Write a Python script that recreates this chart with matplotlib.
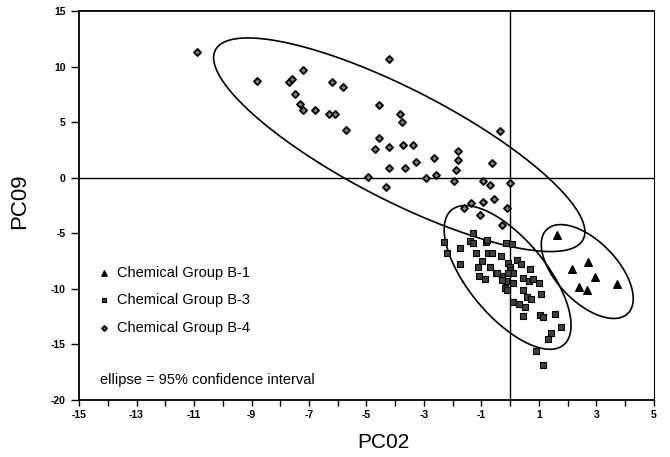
import numpy as np
import matplotlib
matplotlib.use('Agg')
import matplotlib.pyplot as plt
from matplotlib.ticker import MultipleLocator, FuncFormatter

plt.rcParams['font.family'] = ['Liberation Sans', 'DejaVu Sans']
plt.rcParams['axes.unicode_minus'] = False

# Chemical Group B-1 (triangles)
b1_x = [1.62, 2.72, 2.15, 2.96, 2.38, 2.67, 3.71]
b1_y = [-5.2, -7.6, -8.2, -8.9, -9.8, -10.1, -9.6]

# Chemical Group B-3 (squares)
b3_x = [-1.28, -2.32, -1.74, -1.39, -1.30, -0.85, -0.81, -0.14, 0.06, -2.20,
        -1.18, -0.76, -0.64, -0.31, -1.74, -0.99, -1.12, -0.70, -0.08, 0.00,
        0.25, 0.37, 0.70, 0.00, -0.50, -0.27, -1.10, -0.87, 0.09, -0.15,
        -0.17, -0.11, 0.09, 0.44, 0.66, 0.78, 0.99, 0.44, 0.58, 0.73,
        1.07, 0.09, 0.32, 0.52, 0.43, 1.04, 1.14, 1.57, 1.76, 1.42,
        1.30, 0.90, 1.14, -0.45, -0.30, -0.09]
b3_y = [-5.0, -5.8, -6.3, -5.7, -5.85, -5.8, -5.6, -5.9, -5.95, -6.8,
        -6.8, -6.75, -6.8, -7.05, -7.8, -7.5, -8.0, -8.0, -7.7, -8.0,
        -7.4, -7.8, -8.2, -8.3, -8.55, -8.85, -8.85, -9.1, -8.6, -9.3,
        -9.9, -10.1, -9.5, -9.05, -9.3, -9.15, -9.5, -10.1, -10.7, -10.95,
        -10.5, -11.2, -11.4, -11.6, -12.45, -12.4, -12.55, -12.3, -13.4, -13.95,
        -14.55, -15.6, -16.85, -8.6, -9.2, -8.6]

# Chemical Group B-4 (diamonds)
b4_x = [-10.9, -8.8, -7.7, -7.6, -7.2, -7.5, -7.3, -7.2, -6.8, -6.2,
        -5.8, -6.3, -6.1, -5.7, -4.2, -4.55, -3.85, -3.77, -4.56, -4.72,
        -4.21, -3.73, -3.37, -2.65, -1.83, -1.80, -0.65, -0.36, -4.21, -3.66,
        -4.95, -4.32, -3.28, -2.93, -2.58, -1.88, -1.95, -0.94, -0.72, -0.02,
        -0.57, -0.94, -1.36, -1.61, -0.11, -1.04, -0.29]
b4_y = [11.3, 8.7, 8.6, 8.9, 9.7, 7.5, 6.6, 6.1, 6.1, 8.6,
        8.2, 5.7, 5.7, 4.3, 10.7, 6.5, 5.7, 5.0, 3.6, 2.6,
        2.75, 2.96, 2.9, 1.8, 2.4, 1.6, 1.3, 4.2, 0.9, 0.9,
        0.1, -0.8, 1.4, 0.0, 0.2, 0.7, -0.3, -0.3, -0.7, -0.5,
        -1.9, -2.2, -2.3, -2.7, -2.7, -3.4, -4.3]

# 95% confidence ellipses: centre and covariance-like shape matrix
ell_center = [(-3.86, 2.96), (-0.09, -8.98), (2.68, -8.45)]
ell_shape = [[[41.71, -50.61], [-50.61, 92.41]],
             [[4.875, -9.52], [-9.52, 41.84]],
             [[2.560, -3.896], [-3.896, 17.85]]]

x_ticks = [-15, -13, -11, -9, -7, -5, -3, -1, 1, 3, 5]
y_ticks = [-20, -15, -10, -5, 0, 5, 10, 15]

fig = plt.figure(figsize=(6.7, 4.57), dpi=100)
ax = fig.add_axes([0.118, 0.125, 0.858, 0.851])

ax.axhline(0, color='black', lw=1.0, zorder=1)
ax.axvline(0, color='black', lw=1.0, zorder=1)

t = np.linspace(0, 2 * np.pi, 400)
for c, s in zip(ell_center, ell_shape):
    vals, vecs = np.linalg.eigh(np.array(s))
    pts = vecs @ (np.sqrt(vals)[:, None] * np.vstack([np.cos(t), np.sin(t)]))
    ax.plot(c[0] + pts[0], c[1] + pts[1], color='black', lw=1.2, zorder=2)

h1 = ax.scatter(b1_x, b1_y, marker='^', s=30, color='black', zorder=3)
h3 = ax.scatter(b3_x, b3_y, marker='s', s=22, facecolor='0.25', edgecolor='black',
                linewidth=0.8, zorder=3)
h4 = ax.scatter(b4_x, b4_y, marker='D', s=13, facecolor='0.5', edgecolor='black',
                linewidth=1.3, zorder=3)

ax.set_xlim(-15, 5)
ax.set_ylim(-20, 15)
ax.xaxis.set_major_locator(MultipleLocator(1))
ax.xaxis.set_major_formatter(FuncFormatter(
    lambda v, p: '%d' % round(v) if round(v) in x_ticks else ''))
ax.set_yticks(y_ticks)
ax.tick_params(axis='both', direction='out', labelsize=7.5, color='black')
ax.tick_params(axis='x', length=4, width=1)
ax.tick_params(axis='y', length=6, width=1)
for lab in ax.get_xticklabels() + ax.get_yticklabels():
    lab.set_fontweight('bold')
for sp in ax.spines.values():
    sp.set_linewidth(1.3)
ax.spines['right'].set_linewidth(0.8)

ax.set_xlabel('PC02', fontsize=15)
ax.xaxis.set_label_coords(0.529, -0.085)
ax.set_ylabel('PC09', fontsize=16)
ax.yaxis.set_label_coords(-0.085, 0.51)

leg = ax.legend([h1, h3, h4],
                ['Chemical Group B-1', 'Chemical Group B-3', 'Chemical Group B-4'],
                loc='upper left', bbox_to_anchor=(0.034, 0.345), frameon=False,
                fontsize=10.5, handlelength=0.8, handletextpad=0.45,
                labelspacing=0.92, borderpad=0, borderaxespad=0, markerscale=0.7)

ax.text(0.037, 0.051, 'ellipse = 95% confidence interval', transform=ax.transAxes,
        fontsize=10.5, va='center', ha='left')

fig.savefig('out.png', dpi=100)
